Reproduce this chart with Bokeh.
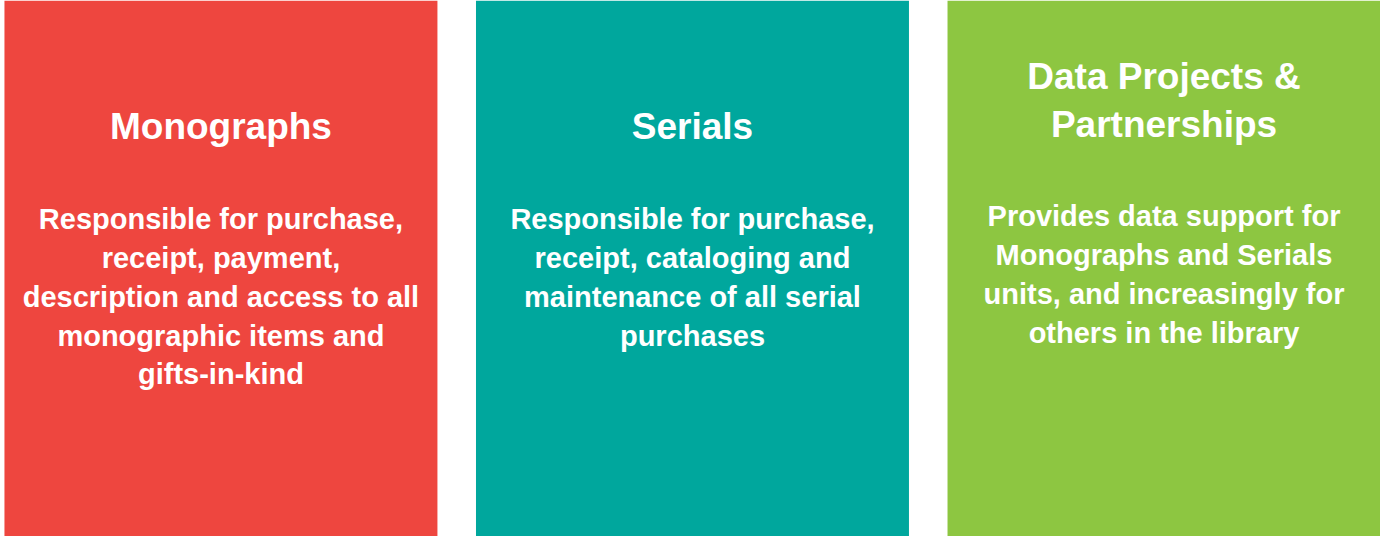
from bokeh.plotting import figure
from bokeh.models import Range1d
from bokeh.core.properties import value
from bokeh.embed import file_html
from bokeh.resources import INLINE

units = ["Monographs", "Serials", "Data Projects & Partnerships"]
title_lines = [["Monographs"], ["Serials"], ["Data Projects &", "Partnerships"]]
body_lines = [
    ["Responsible for purchase,", "receipt, payment,", "description and access to all",
     "monographic items and", "gifts-in-kind"],
    ["Responsible for purchase,", "receipt, cataloging and",
     "maintenance of all serial", "purchases"],
    ["Provides data support for", "Monographs and Serials",
     "units, and increasingly for", "others in the library"],
]
colors = ["#EE463F", "#00A79D", "#8DC641"]

W, H = 1380, 536
p = figure(width=W, height=H, output_backend="svg", toolbar_location=None,
           x_range=Range1d(0, 1396), y_range=Range1d(552, 0), min_border=0)
p.axis.visible = False
p.grid.visible = False
p.outline_line_color = None
p.background_fill_color = "white"

left = [4 + i * 477 for i in range(len(units))]
p.quad(left=left, right=[l + 438 for l in left], top=[0] * 3, bottom=[552] * 3,
       color=colors, line_color=None)

tx, ty, tt = [], [], []
bx, by, bt = [], [], []
for i in range(len(units)):
    cx = left[i] + 219
    n = len(title_lines[i])
    t0 = 130 if n == 1 else 78
    for j, s in enumerate(title_lines[i]):
        tx.append(cx); ty.append(t0 + j * 50); tt.append(s)
    b0 = 225 if n == 1 else 222
    for j, s in enumerate(body_lines[i]):
        bx.append(cx); by.append(b0 + j * 40); bt.append(s)

p.text(x=tx, y=ty, text=tt, text_align="center", text_baseline="middle",
       text_color="white", text_font=value("Liberation Sans"),
       text_font_style="bold", text_font_size="37px")
p.text(x=bx, y=by, text=bt, text_align="center", text_baseline="middle",
       text_color="white", text_font=value("Liberation Sans"),
       text_font_style="bold", text_font_size="29px")

open("out.html", "w").write(file_html(p, INLINE))
